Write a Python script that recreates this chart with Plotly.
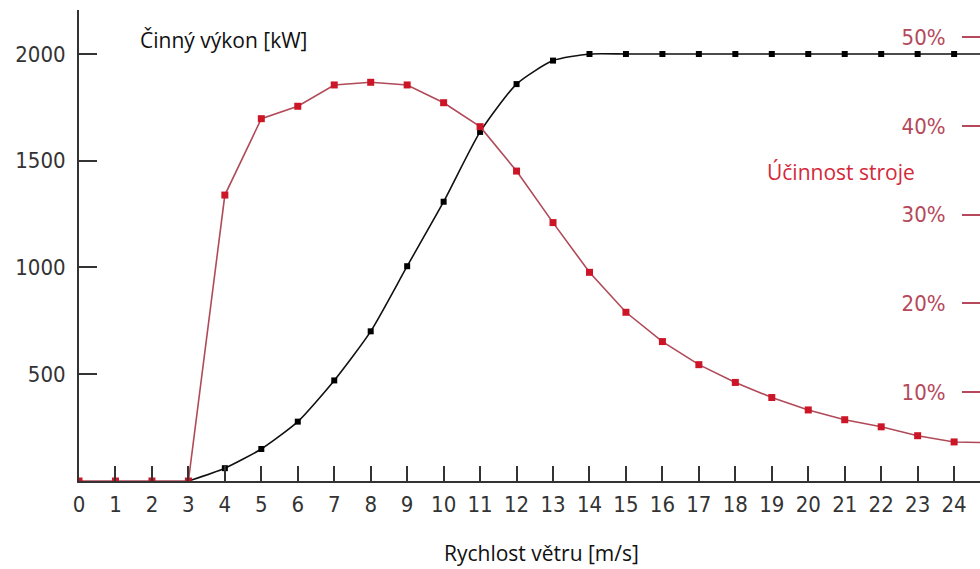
import plotly.graph_objects as go

# wind speed [m/s]
speed_eff = [0, 1, 2, 3, 4, 5, 6, 7, 8, 9, 10, 11, 12, 13, 14, 15, 16, 17, 18, 19, 20, 21, 22, 23, 24, 25]
efficiency_pct = [0, 0, 0, 0, 32.2, 40.8, 42.2, 44.6, 44.9, 44.6, 42.6, 39.9, 34.9, 29.1, 23.5, 19.0,
                  15.7, 13.1, 11.1, 9.4, 8.0, 6.9, 6.1, 5.1, 4.4, 4.3]
speed_pow = [3, 4, 5, 6, 7, 8, 9, 10, 11, 12, 13, 14, 15, 16, 17, 18, 19, 20, 21, 22, 23, 24, 25]
power_kw = [0, 60, 150, 278, 471, 701, 1006, 1308, 1635, 1859, 1969, 2000, 2000, 2000, 2000, 2000,
            2000, 2000, 2000, 2000, 2000, 2000, 2000]

x_ticks = list(range(0, 25))
y_ticks = [500, 1000, 1500, 2000]
pct_ticks = [10, 20, 30, 40, 50]
pct_labels = ["10%", "20%", "30%", "40%", "50%"]

tick_font = dict(family="DejaVu Sans Condensed, Liberation Sans Narrow, DejaVu Sans, sans-serif",
                 size=22, color="#333333")
label_font = dict(family="Open Sans, Noto Sans, sans-serif", size=21, color="#111111")

fig = go.Figure()

fig.add_trace(go.Scatter(
    x=speed_eff, y=efficiency_pct, yaxis="y2", mode="lines+markers",
    line=dict(color="#b04a58", width=1.6),
    marker=dict(color="#cc1526", size=7, symbol="square"),
    showlegend=False, cliponaxis=True,
))
fig.add_trace(go.Scatter(
    x=speed_pow, y=power_kw, mode="lines+markers",
    line=dict(color="#111111", width=1.6, shape="spline", smoothing=0.6),
    marker=dict(color="#000000", size=6, symbol="square"),
    showlegend=False, cliponaxis=True,
))

fig.update_layout(
    width=980, height=569,
    margin=dict(l=79, r=0, t=10, b=88),
    paper_bgcolor="white", plot_bgcolor="white",
    xaxis=dict(
        range=[0, 24.71], tickmode="array", tickvals=x_ticks,
        ticks="inside", ticklen=15, tickwidth=2, tickcolor="#333333",
        showline=True, linecolor="#333333", linewidth=2,
        showgrid=False, zeroline=False, tickfont=tick_font,
        ticklabelstandoff=3, automargin=False,
    ),
    yaxis=dict(
        range=[0, 2206], tickmode="array", tickvals=y_ticks,
        ticks="inside", ticklen=18, tickwidth=2, tickcolor="#333333",
        showline=True, linecolor="#333333", linewidth=2,
        showgrid=False, zeroline=False, tickfont=tick_font,
        ticklabelstandoff=7, automargin=False,
    ),
    yaxis2=dict(
        range=[0, 53.04], overlaying="y", side="left", anchor="free", position=1.0,
        tickmode="array", tickvals=pct_ticks, ticktext=pct_labels,
        ticks="outside", ticklen=18, tickwidth=2, tickcolor="#b5485a",
        ticklabelstandoff=12,
        showline=False, showgrid=False, zeroline=False, automargin=False,
        tickfont=dict(family=tick_font["family"], size=22, color="#b5485a"),
    ),
    annotations=[
        dict(text="Činný výkon [kW]", xref="paper", yref="paper", x=0.16, y=0.936,
             showarrow=False, font=label_font, xanchor="center", yanchor="middle"),
        dict(text="Účinnost stroje", xref="paper", yref="paper", x=0.846, y=0.656,
             showarrow=False, font=dict(family=label_font["family"], size=21, color="#d4283a"),
             xanchor="center", yanchor="middle"),
        dict(text="Rychlost větru [m/s]", xref="paper", yref="paper", x=0.513, y=-0.153,
             showarrow=False, font=label_font, xanchor="center", yanchor="middle"),
    ],
)

fig.write_html("out.html", config={"displayModeBar": False},
               post_script="document.body.style.margin='0';")
